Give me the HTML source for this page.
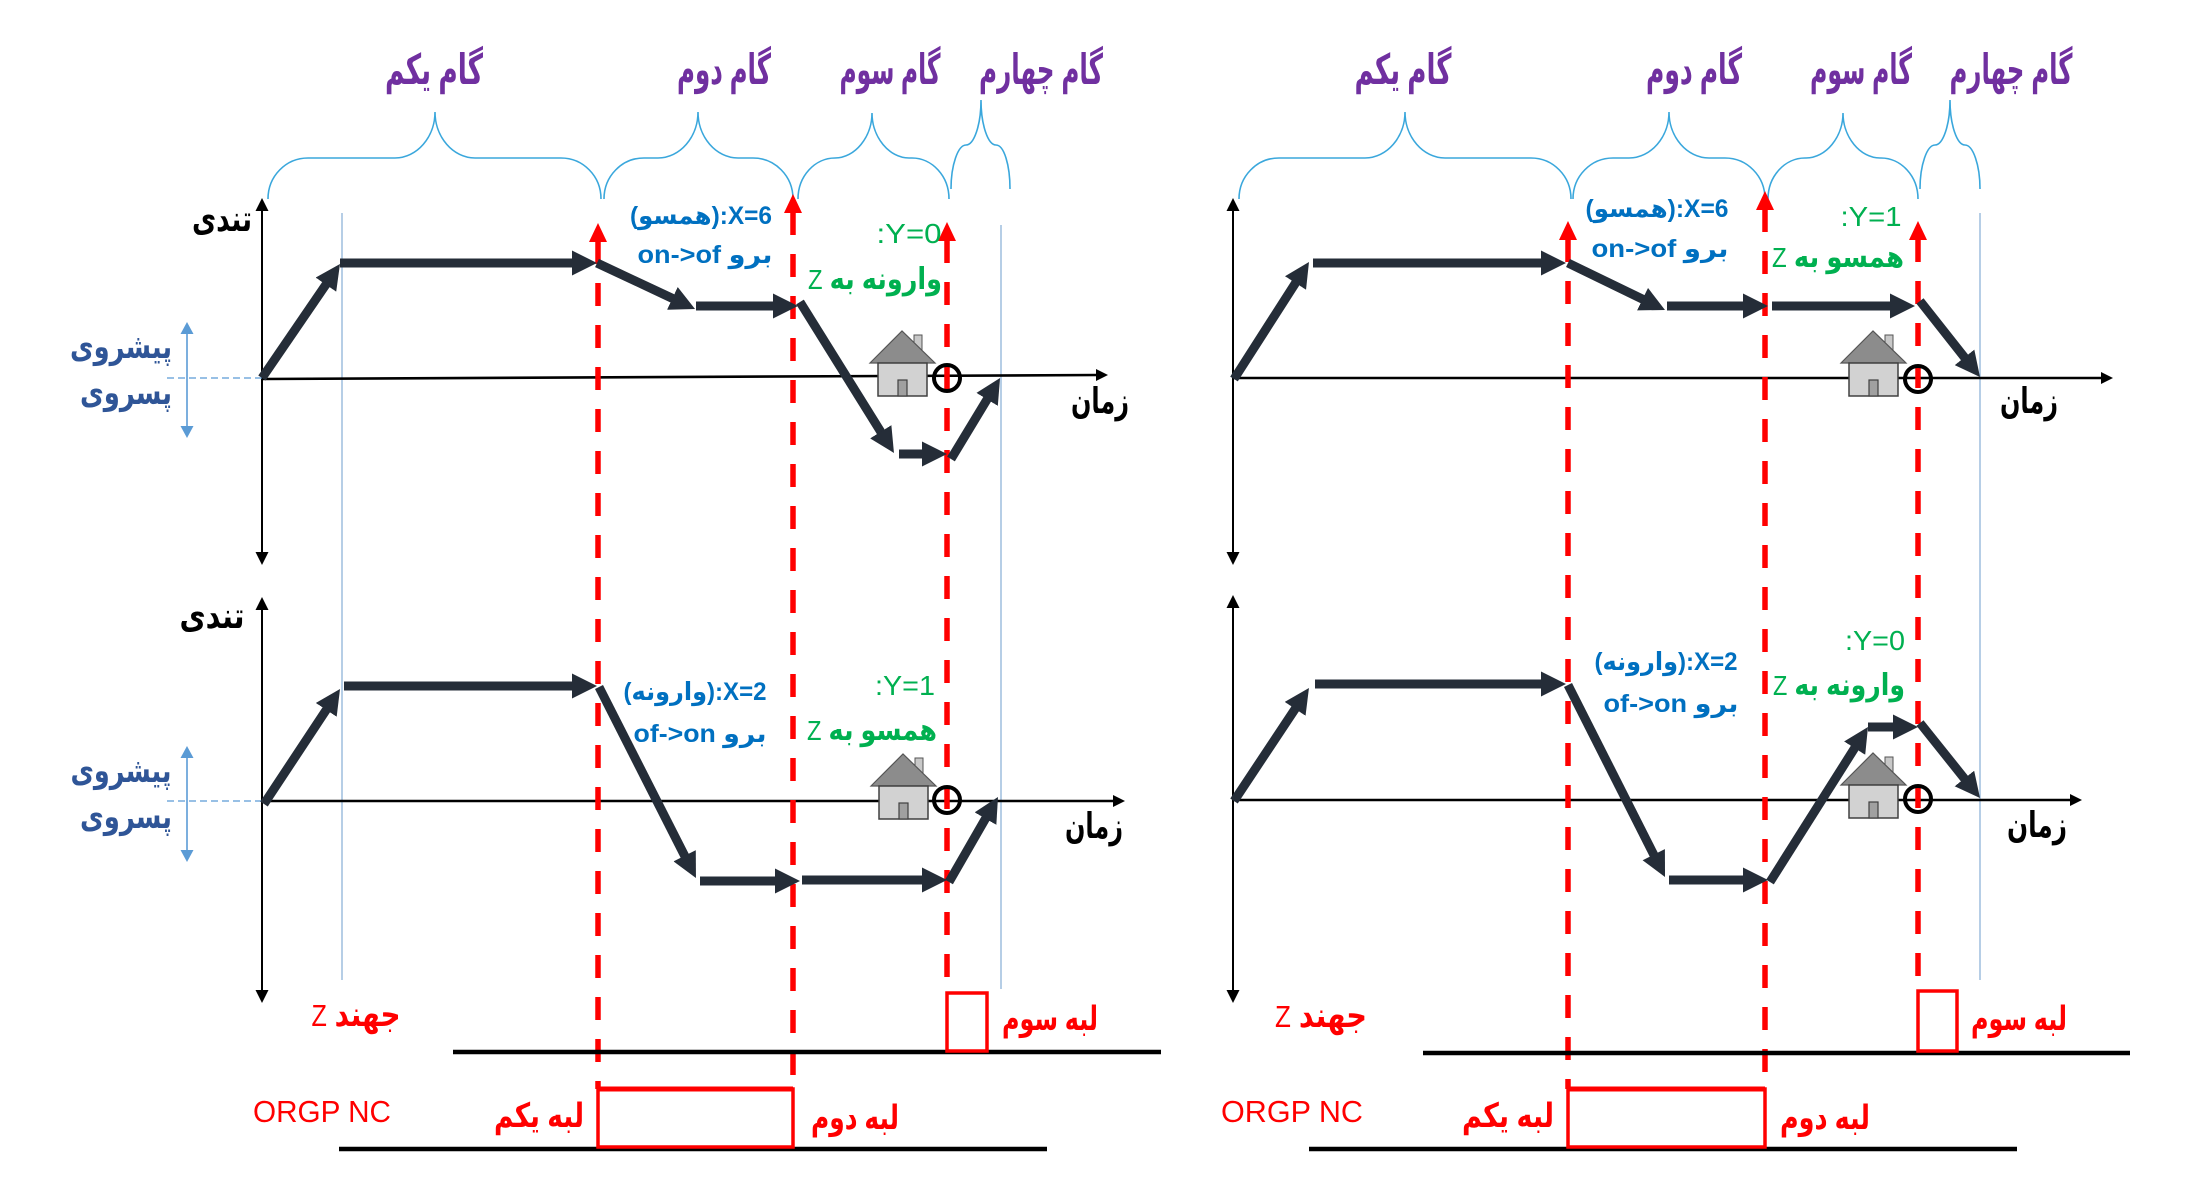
<!DOCTYPE html>
<html><head><meta charset="utf-8">
<style>
html,body{margin:0;padding:0;background:#fff;}
svg{display:block;}
text{font-family:"Liberation Sans","DejaVu Sans",sans-serif;}
.ti{font-weight:bold;fill:#7030a0;font-size:35px;}
.bk{font-weight:bold;fill:#000;font-size:31px;}
.pb{font-weight:bold;fill:#2f5597;font-size:28px;}
.bl{font-weight:bold;fill:#0070c0;font-size:25px;}
.gr{fill:#00b050;font-size:28px;}
.gz{fill:#00b050;font-size:28px;}
.rd{fill:#ff0000;font-size:28px;}
.br{fill:none;stroke:#3aa7dc;stroke-width:1.6;}
.da{stroke:#252d38;stroke-width:9;marker-end:url(#ah);}
.rl{stroke:#ff0000;stroke-width:5.5;stroke-dasharray:23 19;fill:none;}
.ax{stroke:#000;stroke-width:2;}
.vb{stroke:#8fb3d9;stroke-width:1.3;}
</style></head>
<body>
<svg width="2188" height="1178" viewBox="0 0 2188 1178" xmlns="http://www.w3.org/2000/svg">
<defs>
<marker id="ah" markerUnits="userSpaceOnUse" markerWidth="25" markerHeight="25" viewBox="0 0 25 25" refX="5" refY="12.5" orient="auto">
<path d="M0,0 L25,12.5 L0,25 Z" fill="#252d38"/>
</marker>
<g id="house">
<rect x="36" y="-28" width="8" height="18" fill="#c8c8c8" stroke="#555" stroke-width="1"/>
<polygon points="-8,0 24,-32 57,0" fill="#8c8c8c" stroke="#555" stroke-width="1.2"/>
<rect x="0" y="0" width="49" height="33" fill="#d2d2d2" stroke="#404040" stroke-width="1.5"/>
<rect x="20" y="17" width="9" height="16" fill="#a0a0a0" stroke="#404040" stroke-width="1.2"/>
</g>
</defs>
<rect x="0" y="0" width="2188" height="1178" fill="#fff"/>

<!-- ===== Titles ===== -->
<text class="ti" transform="translate(434,84) scale(1,1.2)" text-anchor="middle" textLength="98" lengthAdjust="spacingAndGlyphs">گام یکم</text>
<text class="ti" transform="translate(724,84) scale(1,1.2)" text-anchor="middle" textLength="94" lengthAdjust="spacingAndGlyphs">گام دوم</text>
<text class="ti" transform="translate(890,84) scale(1,1.2)" text-anchor="middle" textLength="101" lengthAdjust="spacingAndGlyphs">گام سوم</text>
<text class="ti" transform="translate(1041,84) scale(1,1.2)" text-anchor="middle" textLength="124" lengthAdjust="spacingAndGlyphs">گام چهارم</text>
<text class="ti" transform="translate(1403,84) scale(1,1.2)" text-anchor="middle" textLength="97" lengthAdjust="spacingAndGlyphs">گام یکم</text>
<text class="ti" transform="translate(1694,84) scale(1,1.2)" text-anchor="middle" textLength="96" lengthAdjust="spacingAndGlyphs">گام دوم</text>
<text class="ti" transform="translate(1861,84) scale(1,1.2)" text-anchor="middle" textLength="102" lengthAdjust="spacingAndGlyphs">گام سوم</text>
<text class="ti" transform="translate(2011,84) scale(1,1.2)" text-anchor="middle" textLength="123" lengthAdjust="spacingAndGlyphs">گام چهارم</text>

<!-- ===== Braces left ===== -->
<path class="br" d="M268,199 C268,176 286,158 308,158 L395,158 C417,158 435,137 435,112 C435,137 453,158 475,158 L561,158 C583,158 601,176 601,199"/>
<path class="br" d="M604,199 C604,176 622,158 644,158 L658,158 C680,158 698,137 698,112 C698,137 716,158 738,158 L753,158 C775,158 793,176 793,199"/>
<path class="br" d="M798,199 C798,176 815,158 835,158 C855,158 872,137 872,113 C872,137 889,158 909,158 L912,158 C932,158 949,176 949,199"/>
<path class="br" d="M951,189 C951,165 958,145 966,145 C974,145 981,125 981,100 C981,125 988,145 996,145 C1004,145 1010,165 1010,189"/>
<!-- ===== Braces right ===== -->
<path class="br" d="M1239,199 C1239,176 1257,158 1279,158 L1365,158 C1387,158 1405,137 1405,112 C1405,137 1423,158 1445,158 L1531,158 C1553,158 1571,176 1571,199"/>
<path class="br" d="M1573,199 C1573,176 1591,158 1613,158 L1629,158 C1651,158 1669,137 1669,112 C1669,137 1687,158 1709,158 L1725,158 C1747,158 1765,176 1765,199"/>
<path class="br" d="M1768,199 C1768,176 1785,158 1805,158 L1806,158 C1826,158 1843,137 1843,113 C1843,137 1860,158 1880,158 L1881,158 C1901,158 1918,176 1918,199"/>
<path class="br" d="M1920,189 C1920,165 1927,145 1935,145 C1943,145 1950,125 1950,100 C1950,125 1957,145 1965,145 C1973,145 1980,165 1980,189"/>

<!-- ===== Thin blue verticals ===== -->
<line class="vb" x1="342" y1="213" x2="342" y2="980"/>
<line class="vb" x1="1001" y1="225" x2="1001" y2="989"/>
<line class="vb" x1="1980" y1="213" x2="1980" y2="980"/>

<!-- ===== Axes left ===== -->
<line class="ax" x1="262" y1="208" x2="262" y2="555"/>
<polygon points="255.5,211 262,198 268.5,211" fill="#000"/>
<polygon points="255.5,552 262,565 268.5,552" fill="#000"/>
<line class="ax" x1="262" y1="379" x2="1098" y2="375" style="stroke-width:2.6"/>
<polygon points="1096,369 1108,375 1096,381" fill="#000"/>

<line class="ax" x1="262" y1="607" x2="262" y2="993"/>
<polygon points="255.5,610 262,597 268.5,610" fill="#000"/>
<polygon points="255.5,990 262,1003 268.5,990" fill="#000"/>
<line class="ax" x1="262" y1="801" x2="1115" y2="801" style="stroke-width:2.6"/>
<polygon points="1113,795 1125,801 1113,807" fill="#000"/>

<!-- ===== Axes right ===== -->
<line class="ax" x1="1233" y1="208" x2="1233" y2="555"/>
<polygon points="1226.5,211 1233,198 1239.5,211" fill="#000"/>
<polygon points="1226.5,552 1233,565 1239.5,552" fill="#000"/>
<line class="ax" x1="1233" y1="378" x2="2103" y2="378" style="stroke-width:2.6"/>
<polygon points="2101,372 2113,378 2101,384" fill="#000"/>

<line class="ax" x1="1233" y1="605" x2="1233" y2="993"/>
<polygon points="1226.5,608 1233,595 1239.5,608" fill="#000"/>
<polygon points="1226.5,990 1233,1003 1239.5,990" fill="#000"/>
<line class="ax" x1="1233" y1="800" x2="2072" y2="800" style="stroke-width:2.6"/>
<polygon points="2070,794 2082,800 2070,806" fill="#000"/>

<!-- ===== Left side labels ===== -->
<text class="bk" transform="translate(222,231) scale(1,1.15)" text-anchor="middle" textLength="60" lengthAdjust="spacingAndGlyphs">تندی</text>
<text class="bk" transform="translate(212,628) scale(1,1.15)" text-anchor="middle" textLength="65" lengthAdjust="spacingAndGlyphs">تندی</text>

<text class="pb" transform="translate(121,358) scale(1,1.2)" text-anchor="middle" textLength="102" lengthAdjust="spacingAndGlyphs">پیشروی</text>
<text class="pb" transform="translate(126,404) scale(1,1.2)" text-anchor="middle" textLength="92" lengthAdjust="spacingAndGlyphs">پسروی</text>
<text class="pb" transform="translate(121,782) scale(1,1.2)" text-anchor="middle" textLength="101" lengthAdjust="spacingAndGlyphs">پیشروی</text>
<text class="pb" transform="translate(126,828) scale(1,1.2)" text-anchor="middle" textLength="92" lengthAdjust="spacingAndGlyphs">پسروی</text>

<!-- double arrows -->
<line x1="187" y1="332" x2="187" y2="428" stroke="#5b9bd5" stroke-width="1.6"/>
<polygon points="180.5,334 187,322 193.5,334" fill="#5b9bd5"/>
<polygon points="180.5,426 187,438 193.5,426" fill="#5b9bd5"/>
<line x1="167" y1="378" x2="262" y2="378" stroke="#5b9bd5" stroke-width="1.3" stroke-dasharray="7 4"/>

<line x1="187" y1="756" x2="187" y2="852" stroke="#5b9bd5" stroke-width="1.6"/>
<polygon points="180.5,758 187,746 193.5,758" fill="#5b9bd5"/>
<polygon points="180.5,850 187,862 193.5,850" fill="#5b9bd5"/>
<line x1="167" y1="801" x2="262" y2="801" stroke="#5b9bd5" stroke-width="1.3" stroke-dasharray="7 4"/>

<!-- time labels -->
<text class="bk" transform="translate(1100,413) scale(1,1.15)" text-anchor="middle" textLength="58" lengthAdjust="spacingAndGlyphs">زمان</text>
<text class="bk" transform="translate(1094,838) scale(1,1.15)" text-anchor="middle" textLength="58" lengthAdjust="spacingAndGlyphs">زمان</text>
<text class="bk" transform="translate(2029,413) scale(1,1.15)" text-anchor="middle" textLength="58" lengthAdjust="spacingAndGlyphs">زمان</text>
<text class="bk" transform="translate(2037,837) scale(1,1.15)" text-anchor="middle" textLength="60" lengthAdjust="spacingAndGlyphs">زمان</text>

<!-- ===== Red dashed lines ===== -->
<line class="rl" x1="598" y1="241" x2="598" y2="1089"/>
<polygon points="589,242 598,223 607,242" fill="#ff0000"/>
<line class="rl" x1="793" y1="212" x2="793" y2="1089"/>
<polygon points="784,213 793,194 802,213" fill="#ff0000"/>
<line class="rl" x1="947" y1="240" x2="947" y2="993"/>
<polygon points="938,241 947,222 956,241" fill="#ff0000"/>

<line class="rl" x1="1568" y1="239" x2="1568" y2="1089"/>
<polygon points="1559,240 1568,221 1577,240" fill="#ff0000"/>
<line class="rl" x1="1765" y1="209" x2="1765" y2="1089"/>
<polygon points="1756,210 1765,191 1774,210" fill="#ff0000"/>
<line class="rl" x1="1918" y1="239" x2="1918" y2="991"/>
<polygon points="1909,240 1918,221 1927,240" fill="#ff0000"/>

<!-- ===== Houses & circles ===== -->
<use href="#house" x="878" y="363"/>
<use href="#house" x="879" y="786"/>
<use href="#house" x="1849" y="363"/>
<use href="#house" x="1849" y="785"/>
<circle cx="947" cy="378" r="13" fill="none" stroke="#000" stroke-width="4"/>
<circle cx="947" cy="800" r="13" fill="none" stroke="#000" stroke-width="4"/>
<circle cx="1918" cy="379" r="13" fill="none" stroke="#000" stroke-width="4"/>
<circle cx="1918" cy="799" r="13" fill="none" stroke="#000" stroke-width="4"/>

<!-- ===== Dark arrows: top-left ===== -->
<line class="da" x1="262" y1="378" x2="328.7" y2="280.5"/>
<line class="da" x1="340" y1="263" x2="577" y2="263"/>
<line class="da" x1="597" y1="263" x2="676.9" y2="300.5"/>
<line class="da" x1="696" y1="306" x2="778" y2="306"/>
<line class="da" x1="800" y1="302" x2="883.4" y2="436"/>
<line class="da" x1="899" y1="454" x2="927" y2="454"/>
<line class="da" x1="951" y1="459" x2="989.7" y2="395.1"/>
<!-- bottom-left -->
<line class="da" x1="264" y1="804" x2="329" y2="705.7"/>
<line class="da" x1="344" y1="686" x2="577" y2="686"/>
<line class="da" x1="599" y1="687" x2="686.9" y2="860.2"/>
<line class="da" x1="700" y1="881" x2="780" y2="881"/>
<line class="da" x1="802" y1="880" x2="927" y2="880"/>
<line class="da" x1="949" y1="882" x2="988" y2="814.3"/>
<!-- top-right -->
<line class="da" x1="1234" y1="379" x2="1298.2" y2="278.8"/>
<line class="da" x1="1313" y1="263" x2="1546" y2="263"/>
<line class="da" x1="1568" y1="263" x2="1647" y2="301.3"/>
<line class="da" x1="1667" y1="306" x2="1748" y2="306"/>
<line class="da" x1="1772" y1="306" x2="1895" y2="306"/>
<line class="da" x1="1920" y1="301" x2="1967.6" y2="361.3"/>
<!-- bottom-right -->
<line class="da" x1="1234" y1="801" x2="1297.9" y2="704.7"/>
<line class="da" x1="1315" y1="684" x2="1546" y2="684"/>
<line class="da" x1="1568" y1="685" x2="1656" y2="859.1"/>
<line class="da" x1="1669" y1="880" x2="1748" y2="880"/>
<line class="da" x1="1770" y1="882" x2="1857.3" y2="743.9"/>
<line class="da" x1="1868" y1="727" x2="1898" y2="727"/>
<line class="da" x1="1920" y1="723" x2="1967.5" y2="782.4"/>

<!-- ===== Blue annotations ===== -->
<text class="bl" x="701" y="224" text-anchor="middle" textLength="142" lengthAdjust="spacingAndGlyphs">(همسو):X=6</text>
<text class="bl" x="705" y="263" text-anchor="middle" textLength="135" lengthAdjust="spacingAndGlyphs">on-&gt;of برو</text>
<text class="bl" x="1657" y="217" text-anchor="middle" textLength="143" lengthAdjust="spacingAndGlyphs">(همسو):X=6</text>
<text class="bl" x="1660" y="257" text-anchor="middle" textLength="137" lengthAdjust="spacingAndGlyphs">on-&gt;of برو</text>
<text class="bl" x="695" y="700" text-anchor="middle" textLength="143" lengthAdjust="spacingAndGlyphs">(وارونه):X=2</text>
<text class="bl" x="700" y="742" text-anchor="middle" textLength="133" lengthAdjust="spacingAndGlyphs">of-&gt;on برو</text>
<text class="bl" x="1666" y="670" text-anchor="middle" textLength="143" lengthAdjust="spacingAndGlyphs">(وارونه):X=2</text>
<text class="bl" x="1671" y="712" text-anchor="middle" textLength="135" lengthAdjust="spacingAndGlyphs">of-&gt;on برو</text>

<!-- ===== Green annotations ===== -->
<text class="gr" x="909" y="243" text-anchor="middle" textLength="65" lengthAdjust="spacingAndGlyphs">:Y=0</text>
<text class="gz" x="875" y="289" text-anchor="middle" textLength="134" lengthAdjust="spacingAndGlyphs"><tspan>Z</tspan><tspan font-weight="bold" font-size="30"> وارونه به</tspan></text>
<text class="gr" x="1871" y="226" text-anchor="middle" textLength="61" lengthAdjust="spacingAndGlyphs">:Y=1</text>
<text class="gz" x="1838" y="267" text-anchor="middle" textLength="132" lengthAdjust="spacingAndGlyphs"><tspan>Z</tspan><tspan font-weight="bold" font-size="30"> همسو به</tspan></text>
<text class="gr" x="905" y="695" text-anchor="middle" textLength="60" lengthAdjust="spacingAndGlyphs">:Y=1</text>
<text class="gz" x="872" y="740" text-anchor="middle" textLength="130" lengthAdjust="spacingAndGlyphs"><tspan>Z</tspan><tspan font-weight="bold" font-size="30"> همسو به</tspan></text>
<text class="gr" x="1875" y="650" text-anchor="middle" textLength="60" lengthAdjust="spacingAndGlyphs">:Y=0</text>
<text class="gz" x="1839" y="695" text-anchor="middle" textLength="132" lengthAdjust="spacingAndGlyphs"><tspan>Z</tspan><tspan font-weight="bold" font-size="30"> وارونه به</tspan></text>

<!-- ===== Signal lines left ===== -->
<line x1="453" y1="1052" x2="1161" y2="1052" stroke="#000" stroke-width="4.5"/>
<rect x="947" y="993" width="40" height="58" fill="none" stroke="#ff0000" stroke-width="3.5"/>
<line x1="339" y1="1149" x2="1047" y2="1149" stroke="#000" stroke-width="4.5"/>
<rect x="598" y="1089" width="195" height="58" fill="none" stroke="#ff0000" stroke-width="3.5"/>
<line x1="598" y1="1089" x2="793" y2="1089" stroke="#ff0000" stroke-width="5"/>

<!-- ===== Signal lines right ===== -->
<line x1="1423" y1="1053" x2="2130" y2="1053" stroke="#000" stroke-width="4.5"/>
<rect x="1918" y="991" width="39" height="60" fill="none" stroke="#ff0000" stroke-width="3.5"/>
<line x1="1309" y1="1149" x2="2017" y2="1149" stroke="#000" stroke-width="4.5"/>
<rect x="1568" y="1089" width="197" height="58" fill="none" stroke="#ff0000" stroke-width="3.5"/>
<line x1="1568" y1="1089" x2="1765" y2="1089" stroke="#ff0000" stroke-width="5"/>

<!-- ===== Red labels ===== -->
<text class="rd" transform="translate(356,1026) scale(1,1.1)" text-anchor="middle" textLength="89" lengthAdjust="spacingAndGlyphs"><tspan>Z</tspan><tspan font-weight="bold" font-size="31"> جهند</tspan></text>
<text class="rd" transform="translate(1321,1027) scale(1,1.1)" text-anchor="middle" textLength="92" lengthAdjust="spacingAndGlyphs"><tspan>Z</tspan><tspan font-weight="bold" font-size="31"> جهند</tspan></text>
<text class="rd" x="322" y="1122" text-anchor="middle" textLength="138" lengthAdjust="spacingAndGlyphs" style="font-size:31px">ORGP NC</text>
<text class="rd" x="1292" y="1122" text-anchor="middle" textLength="142" lengthAdjust="spacingAndGlyphs" style="font-size:31px">ORGP NC</text>
<text class="rd" transform="translate(539,1127) scale(1,1.2)" text-anchor="middle" textLength="90" lengthAdjust="spacingAndGlyphs" font-weight="bold" font-size="32">لبه یکم</text>
<text class="rd" transform="translate(1508,1127) scale(1,1.2)" text-anchor="middle" textLength="92" lengthAdjust="spacingAndGlyphs" font-weight="bold" font-size="32">لبه یکم</text>
<text class="rd" transform="translate(855,1129) scale(1,1.2)" text-anchor="middle" textLength="88" lengthAdjust="spacingAndGlyphs" font-weight="bold" font-size="32">لبه دوم</text>
<text class="rd" transform="translate(1825,1129) scale(1,1.2)" text-anchor="middle" textLength="90" lengthAdjust="spacingAndGlyphs" font-weight="bold" font-size="32">لبه دوم</text>
<text class="rd" transform="translate(1050,1030) scale(1,1.2)" text-anchor="middle" textLength="96" lengthAdjust="spacingAndGlyphs" font-weight="bold" font-size="32">لبه سوم</text>
<text class="rd" transform="translate(2019,1030) scale(1,1.2)" text-anchor="middle" textLength="96" lengthAdjust="spacingAndGlyphs" font-weight="bold" font-size="32">لبه سوم</text>
</svg>
</body></html>
